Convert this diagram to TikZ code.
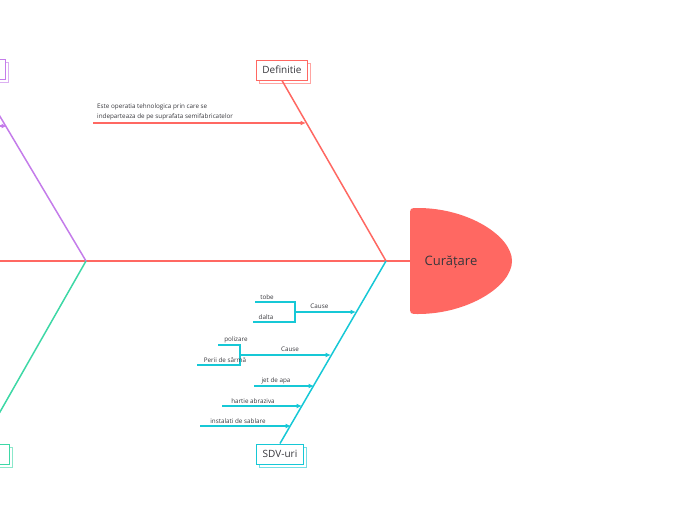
\documentclass[tikz,border=0pt]{standalone}
\usepackage{fontspec}
\setmainfont{Open Sans}
\usetikzlibrary{arrows.meta,shadows}
\definecolor{coral}{RGB}{255,104,98}
\definecolor{lilac}{RGB}{196,124,234}
\definecolor{mint}{RGB}{62,216,166}
\definecolor{aqua}{RGB}{22,200,214}
\definecolor{ink}{RGB}{55,55,60}
\tikzset{
  bone/.style={line width=1.5pt},
  twig/.style={line width=1.1pt},
  cause/.style={twig,-{Latex[length=5.5pt,width=5pt]}},
  catbox/.style={draw=#1,fill=white,line width=1pt,minimum height=20pt,inner xsep=6pt,
    font=\fontsize{10}{12}\selectfont,text=ink,
    copy shadow={shadow xshift=3pt,shadow yshift=-3pt,draw=#1!60,fill=white}},
  lab/.style={font=\fontsize{6.3}{10}\selectfont,text=ink,inner sep=1pt},
}
\begin{document}
\begin{tikzpicture}[x=1pt,y=-1pt]
  \useasboundingbox (0,0) rectangle (696,520);
  \clip (0,0) rectangle (696,520);
  % head
  \fill[coral] (418,208) .. controls (468,208) and (512,236) .. (512,261)
    .. controls (512,286) and (468,314) .. (418,314)
    .. controls (410,314) and (410,314) .. (410,306) -- (410,216)
    .. controls (410,208) and (410,208) .. (418,208);
  \node[font=\fontsize{13}{15}\selectfont,text=ink] (head) at (451,262) {Curățare};
  \coordinate (headw) at (410,261);
  \coordinate (sp0) at (-5,261);
  \coordinate (jl) at (86,261);
  \coordinate (jr) at (386,261);
  % category boxes
  \node[catbox=coral] (def) at (282,70) {Definitie};
  \node[catbox=aqua] (sdv) at (280,454) {SDV-uri};
  \node[catbox=lilac,minimum width=54pt] (lft) at (-22,69) {};
  \node[catbox=mint,minimum width=54pt] (lfb) at (-18,454) {};
  % spine and bones
  \draw[bone,coral] (sp0) -- (headw);
  \draw[bone,coral] (jr) -- (def.south);
  \draw[bone,aqua] (jr) -- (sdv.north);
  \draw[bone,lilac] (jl) -- (lft.south);
  \draw[bone,mint] (jl) -- (lfb.north);
  % Definitie
  \coordinate (d0) at (93,123);
  \coordinate (d1) at (306,123);
  \draw[cause,coral] (d0) -- (d1);
  \node[lab,anchor=south west,align=left] (dtxt) at (96,121)
    {Este operatia tehnologica prin care se\\indeparteaza de pe suprafata semifabricatelor};
  % left top
  \coordinate (p0) at (-40,126);
  \coordinate (p1) at (7,126);
  \draw[cause,lilac] (p0) -- (p1);
  % SDV-uri
  \coordinate (c1) at (295,312);
  \coordinate (c1e) at (356,312);
  \draw[twig,aqua] (255,302) coordinate (t1) -| (c1) |- (253,322) coordinate (t2);
  \draw[cause,aqua] (c1) -- (c1e) node[lab,pos=0.4,above=2pt] (k1) {Cause};
  \node[lab,above=1pt] (tobe) at (267,302) {tobe};
  \node[lab,above=1pt] (dalta) at (266,322) {dalta};
  \coordinate (c2) at (240,355);
  \coordinate (c2e) at (331,355);
  \draw[twig,aqua] (218,345) coordinate (t3) -| (c2) |- (197,365) coordinate (t4);
  \draw[cause,aqua] (c2) -- (c2e) node[lab,pos=0.55,above=2pt] (k2) {Cause};
  \node[lab,above=1pt] (poliz) at (236,345) {polizare};
  \node[lab,above=1pt] (perii) at (225,365) {Perii de sârmă};
  \foreach \nm/\x/\ex/\y/\tx/\txt in {jet/254/314/386/276/jet de apa,
      hart/222/302/406/253/hartie abraziva,
      inst/200/291/426/238/instalati de sablare}{
    \coordinate (\nm0) at (\x,\y);
    \coordinate (\nm1) at (\ex,\y);
    \draw[cause,aqua] (\nm0) -- (\nm1);
    \node[lab,above=1pt] (\nm) at (\tx,\y) {\txt};
  }
\end{tikzpicture}
\end{document}
